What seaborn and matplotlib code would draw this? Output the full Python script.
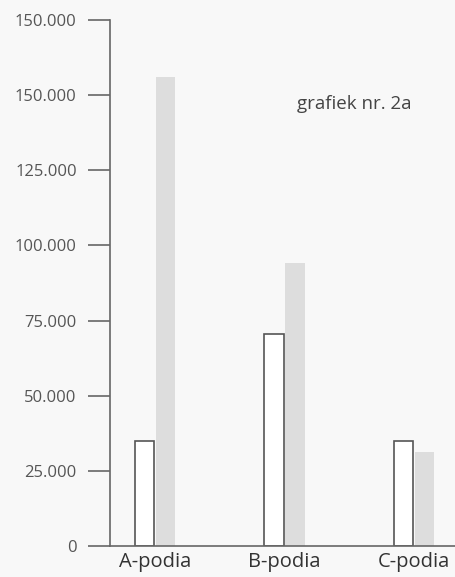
import pandas as pd
import matplotlib
matplotlib.use("Agg")
import matplotlib.pyplot as plt
import seaborn as sns

# Values
categories = ["A-podia", "B-podia", "C-podia"]
series_names = ["wit", "grijs"]
values_white = [35000, 70500, 35000]
values_grey = [156000, 94000, 31300]
ytick_values = [0, 25000, 50000, 75000, 100000, 125000, 150000, 175000]
ytick_labels = ["0", "25.000", "50.000", "75.000", "100.000", "125.000", "150.000", "150.000"]

df = pd.DataFrame({
    "podium": categories * 2,
    "serie": [series_names[0]] * 3 + [series_names[1]] * 3,
    "waarde": values_white + values_grey,
})

sns.set_style("white")
plt.rcParams["font.family"] = ["Open Sans", "DejaVu Sans"]

bg = "#f8f8f8"
fig = plt.figure(figsize=(4.56, 5.77), dpi=100, facecolor=bg)
ax = fig.add_axes([110 / 456, 1 - 546 / 577, 1 - 110 / 456, (546 - 20) / 577])
ax.set_facecolor(bg)

sns.barplot(data=df, x="podium", y="waarde", hue="serie", order=categories,
            hue_order=series_names, palette=["white", "#dddddd"],
            width=0.32, gap=0.06, ax=ax, legend=False)

# white bars get a dark outline, grey bars none
for patch in ax.patches[:3]:
    patch.set_edgecolor("#555555")
    patch.set_linewidth(1.2)
for patch in ax.patches[3:]:
    patch.set_edgecolor("none")

ax.set_xlim(-0.347, 2.324)
ax.set_ylim(0, 175000)
ax.set_yticks(ytick_values)
ax.set_yticklabels(ytick_labels)
ax.set_xlabel("")
ax.set_ylabel("")

for side in ["top", "right"]:
    ax.spines[side].set_visible(False)
for side in ["left", "bottom"]:
    ax.spines[side].set_color("#666666")
    ax.spines[side].set_linewidth(1.2)

ax.tick_params(axis="y", left=True, direction="out", length=16, width=1.2,
               color="#666666", labelsize=12, labelcolor="#555555", pad=8)
ax.tick_params(axis="x", bottom=False, length=0, labelsize=14.5,
               labelcolor="#333333", pad=4)

ax.text(1.097, 147000, "grafiek nr. 2a", fontsize=13.5, color="#444444",
        va="center", ha="left")

fig.savefig("out.png", dpi=100, facecolor=bg)
